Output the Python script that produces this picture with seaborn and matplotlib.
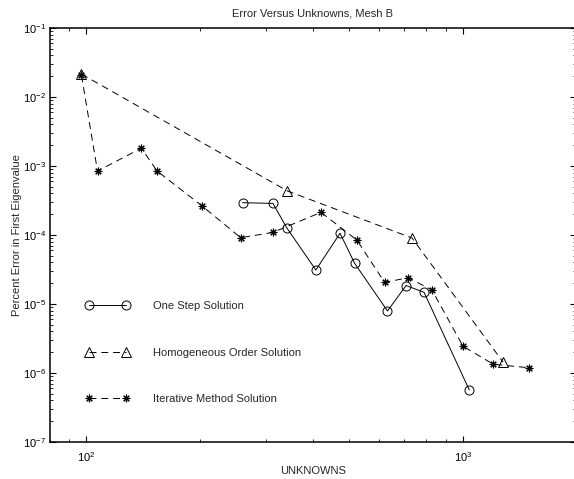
import matplotlib
matplotlib.use("Agg")
import matplotlib.pyplot as plt
import seaborn as sns
import pandas as pd
from matplotlib.ticker import FixedLocator, LogLocator, FuncFormatter, NullFormatter

# ---- data ----
one_x = [260, 313, 341, 407, 472, 516, 631, 707, 789, 1041]
one_y = [2.94e-4, 2.87e-4, 1.26e-4, 3.11e-5, 1.06e-4, 3.89e-5, 7.93e-6, 1.85e-5, 1.48e-5, 5.68e-7]
hom_x = [97, 342, 733, 1280]
hom_y = [2.15e-2, 4.35e-4, 9.06e-5, 1.44e-6]
it_x = [97, 107, 140, 154, 203, 257, 313, 420, 523, 620, 716, 828, 1002, 1205, 1503]
it_y = [2.05e-2, 8.47e-4, 1.81e-3, 8.47e-4, 2.63e-4, 9.14e-5, 1.09e-4, 2.13e-4, 8.47e-5,
        2.06e-5, 2.40e-5, 1.60e-5, 2.44e-6, 1.34e-6, 1.19e-6]
labels = ["One Step Solution", "Homogeneous Order Solution", "Iterative Method Solution"]
x_ticks = [1e2, 1e3]
y_ticks = [1e-7, 1e-6, 1e-5, 1e-4, 1e-3, 1e-2, 1e-1]
title = "Error Versus Unknowns, Mesh B"
xlabel = "UNKNOWNS"
ylabel = "Percent Error in First Eigenvalue"

sns.set_style("ticks")
plt.rcParams["font.family"] = ["Liberation Sans", "DejaVu Sans"]
plt.rcParams["mathtext.fontset"] = "custom"
plt.rcParams["mathtext.rm"] = "Liberation Sans"
plt.rcParams["mathtext.it"] = "Liberation Sans"
plt.rcParams["lines.scale_dashes"] = False

fig = plt.figure(figsize=(5.74, 4.79), dpi=100)
ax = fig.add_axes([50 / 574, 37 / 479, 526 / 574, 414 / 479])

dash = (0, (5, 3.5))
df1 = pd.DataFrame({"x": one_x, "y": one_y})
df2 = pd.DataFrame({"x": hom_x, "y": hom_y})
df3 = pd.DataFrame({"x": it_x, "y": it_y})

sns.lineplot(data=df1, x="x", y="y", ax=ax, color="black", lw=0.7, marker="o", ms=6.5,
             mfc="none", mec="black", mew=0.7, estimator=None, sort=False, label=labels[0])
sns.lineplot(data=df2, x="x", y="y", ax=ax, color="black", lw=0.7, ls=dash, marker="^", ms=7,
             mfc="none", mec="black", mew=0.7, estimator=None, sort=False, label=labels[1])
sns.lineplot(data=df3, x="x", y="y", ax=ax, color="black", lw=0.7, ls=dash, marker=(8, 2, 0), ms=5.5,
             mfc="black", mec="black", mew=0.8, estimator=None, sort=False, label=labels[2])

ax.set_xscale("log")
ax.set_yscale("log")
ax.set_xlim(80, 2000)
ax.set_ylim(1e-7, 1e-1)

def fmt(v, pos):
    import math
    e = int(round(math.log10(v)))
    return r"$\mathregular{10^{%d}}$" % e

ax.xaxis.set_major_locator(FixedLocator(x_ticks))
ax.yaxis.set_major_locator(FixedLocator(y_ticks))
ax.xaxis.set_minor_locator(LogLocator(base=10, subs=range(2, 10), numticks=20))
ax.yaxis.set_minor_locator(LogLocator(base=10, subs=range(2, 10), numticks=20))
ax.xaxis.set_major_formatter(FuncFormatter(fmt))
ax.yaxis.set_major_formatter(FuncFormatter(fmt))
ax.xaxis.set_minor_formatter(NullFormatter())
ax.yaxis.set_minor_formatter(NullFormatter())

ax.tick_params(which="both", direction="in", top=True, right=True, color="black",
               labelsize=8, labelcolor="black")
ax.tick_params(which="major", length=4, width=0.8)
ax.tick_params(which="minor", length=2, width=0.6)
ax.tick_params(axis="x", which="major", pad=6)
ax.tick_params(axis="y", which="major", pad=3)

for s in ax.spines.values():
    s.set_visible(True)
    s.set_linewidth(1.1)
    s.set_color("black")

ax.set_title(title, fontsize=8, pad=8)
ax.set_xlabel(xlabel, fontsize=8, labelpad=1)
ax.set_ylabel(ylabel, fontsize=8, labelpad=0.5)

leg = ax.legend(loc="center left", bbox_to_anchor=(36 / 526, 89.3 / 414), frameon=False,
                fontsize=8, numpoints=2, handlelength=3.9, handletextpad=2.1,
                labelspacing=3.3, borderpad=0, borderaxespad=0)

fig.savefig("out.png", dpi=100, facecolor="white")
